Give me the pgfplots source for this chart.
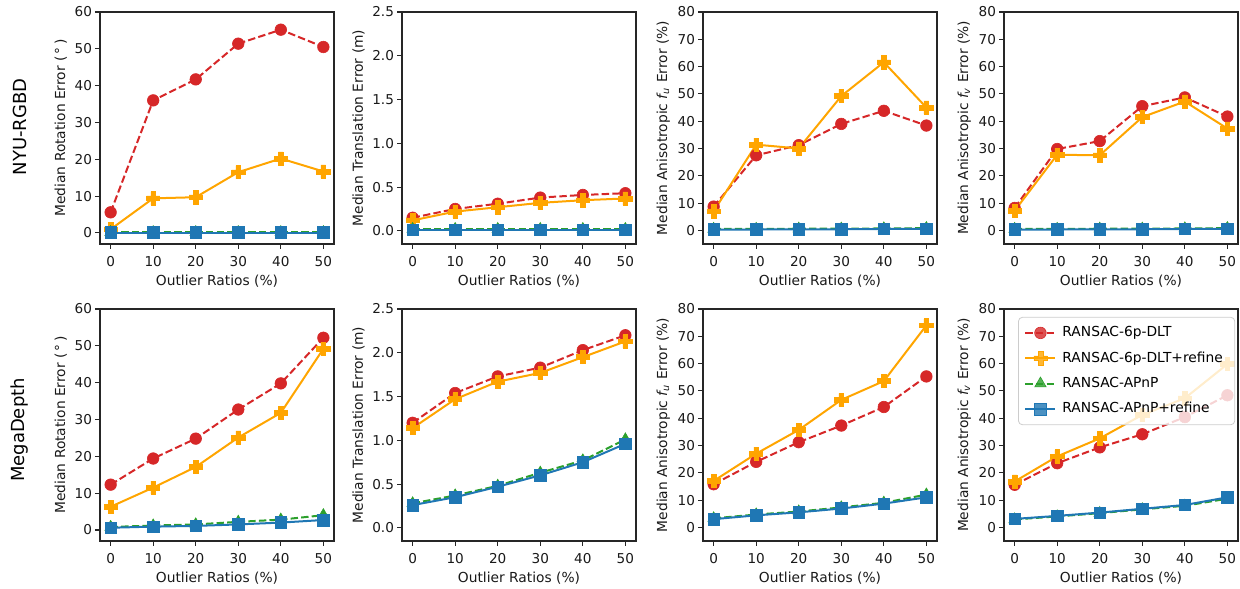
\documentclass[border=0pt]{standalone}
\usepackage{fontspec}
\setmainfont{DejaVu Sans}
\usepackage{pgfplots}
\usepackage{pgfplotstable}
\pgfplotsset{compat=1.18}

\definecolor{cred}{HTML}{D62728}
\definecolor{corange}{HTML}{FFA500}
\definecolor{cgreen}{HTML}{2CA02C}
\definecolor{cblue}{HTML}{1F77B4}

\pgfdeclareplotmark{fatplus}{%
  \pgfmathsetlengthmacro{\pw}{\pgfplotmarksize}%
  \pgfmathsetlengthmacro{\pa}{0.36*\pgfplotmarksize}%
  \pgfpathmoveto{\pgfqpoint{-\pa}{\pw}}%
  \pgfpathlineto{\pgfqpoint{\pa}{\pw}}%
  \pgfpathlineto{\pgfqpoint{\pa}{\pa}}%
  \pgfpathlineto{\pgfqpoint{\pw}{\pa}}%
  \pgfpathlineto{\pgfqpoint{\pw}{-\pa}}%
  \pgfpathlineto{\pgfqpoint{\pa}{-\pa}}%
  \pgfpathlineto{\pgfqpoint{\pa}{-\pw}}%
  \pgfpathlineto{\pgfqpoint{-\pa}{-\pw}}%
  \pgfpathlineto{\pgfqpoint{-\pa}{-\pa}}%
  \pgfpathlineto{\pgfqpoint{-\pw}{-\pa}}%
  \pgfpathlineto{\pgfqpoint{-\pw}{\pa}}%
  \pgfpathlineto{\pgfqpoint{-\pa}{\pa}}%
  \pgfpathclose
  \pgfusepathqfillstroke
}

% x: outlier ratio; r: RANSAC-6p-DLT; o: +refine; g: RANSAC-APnP; b: APnP+refine
\pgfplotstableread{
x  r     o     g     b
0  5.6   1.0   0.2   0.1
10 36.0  9.4   0.2   0.1
20 41.7  9.7   0.2   0.1
30 51.4  16.5  0.2   0.1
40 55.2  20.2  0.2   0.1
50 50.5  16.7  0.2   0.1
}\nyurot
\pgfplotstableread{
x  r     o     g     b
0  0.15  0.12  0.02  0.01
10 0.25  0.22  0.02  0.01
20 0.31  0.27  0.02  0.01
30 0.38  0.32  0.02  0.01
40 0.41  0.35  0.02  0.01
50 0.43  0.37  0.02  0.01
}\nyutra
\pgfplotstableread{
x  r     o     g     b
0  8.7   7.0   0.5   0.3
10 27.5  31.4  0.5   0.3
20 31.2  30.0  0.6   0.4
30 39.0  49.2  0.6   0.4
40 43.8  61.6  0.7   0.5
50 38.4  45.0  0.8   0.5
}\nyufu
\pgfplotstableread{
x  r     o     g     b
0  8.2   7.2   0.5   0.3
10 29.8  27.7  0.5   0.3
20 32.7  27.5  0.6   0.4
30 45.5  41.5  0.6   0.4
40 48.7  47.2  0.7   0.5
50 41.7  37.3  0.8   0.5
}\nyufv
\pgfplotstableread{
x  r     o     g     b
0  12.3  6.3   0.8   0.6
10 19.4  11.5  1.2   0.9
20 24.8  17.1  1.5   1.1
30 32.7  25.1  2.2   1.5
40 39.8  31.8  2.8   2.0
50 52.2  49.2  4.0   2.7
}\megarot
\pgfplotstableread{
x  r     o     g     b
0  1.20  1.14  0.28  0.26
10 1.54  1.47  0.37  0.35
20 1.73  1.67  0.48  0.47
30 1.83  1.77  0.63  0.60
40 2.03  1.95  0.77  0.75
50 2.20  2.13  1.01  0.96
}\megatra
\pgfplotstableread{
x  r     o     g     b
0  15.8  17.0  3.3   3.0
10 24.0  27.0  4.7   4.4
20 31.2  35.7  5.8   5.5
30 37.3  46.7  7.3   6.9
40 44.1  53.6  9.0   8.7
50 55.3  74.0  12.0  11.0
}\megafu
\pgfplotstableread{
x  r     o     g     b
0  15.6  16.8  2.9   3.1
10 23.5  26.0  4.0   4.2
20 29.3  32.6  5.2   5.4
30 34.1  41.2  6.6   6.8
40 40.4  47.3  7.9   8.2
50 48.4  59.8  10.5  11.0
}\megafv

\pgfplotsset{
  panel/.style={
    scale only axis, width=117pt, height=116pt,
    xmin=-2.5, xmax=52.5, xtick={0,10,...,50},
    tick align=outside, major tick length=2.5pt,
    xtick pos=left, ytick pos=left,
    axis line style={line width=0.55pt, black!85},
    every tick/.style={black!85, line width=0.55pt},
    tick label style={font=\fontsize{6.8}{8}\selectfont, text=black!90},
    yticklabel style={xshift=2pt},
    label style={font=\fontsize{6.9}{8}\selectfont, text=black!90},
    xlabel style={yshift=2.5pt},
    ylabel style={yshift=-3pt},
    xlabel={Outlier Ratios (\%)},
    /pgf/number format/assume math mode=true,
    clip=false,
  },
  angpanel/.style={panel, ymin=-3, ymax=60, ytick={0,10,...,60},
    ylabel={Median Rotation Error (\,°\,)}},
  trapanel/.style={panel, ymin=-0.15, ymax=2.5, ytick={0,0.5,...,2.5},
    yticklabel style={/pgf/number format/fixed, /pgf/number format/fixed zerofill, /pgf/number format/precision=1},
    ylabel={Median Translation Error (m)}},
  fupanel/.style={panel, ymin=-5, ymax=80, ytick={0,10,...,80},
    ylabel={Median Anisotropic {\itshape f}\textsubscript{\itshape u} Error (\%)}},
  fvpanel/.style={panel, ymin=-5, ymax=80, ytick={0,10,...,80},
    ylabel={Median Anisotropic {\itshape f}\textsubscript{\itshape v} Error (\%)}},
  sred/.style={color=cred, line width=1pt, dash pattern=on 3.7pt off 1.6pt,
    mark=*, mark size=2.9pt, mark options={solid, fill=cred, draw=cred, line width=0.3pt}},
  sorange/.style={color=corange, line width=1pt, solid,
    mark=fatplus, mark size=3.3pt, mark options={solid, fill=corange, draw=corange, line width=0.3pt}},
  sgreen/.style={color=cgreen, line width=1pt, dash pattern=on 3.7pt off 1.6pt,
    mark=triangle*, mark size=3.3pt, mark options={solid, fill=cgreen, draw=cgreen, line width=0.3pt}},
  sblue/.style={color=cblue, line width=1pt, solid,
    mark=square*, mark size=2.9pt, mark options={solid, fill=cblue, draw=cblue, line width=0.3pt}},
}

\newcommand{\fourseries}[1]{%
  \addplot[sred] table[x=x,y=r] {#1};
  \addplot[sorange] table[x=x,y=o] {#1};
  \addplot[sgreen] table[x=x,y=g] {#1};
  \addplot[sblue] table[x=x,y=b] {#1};
}

\begin{document}
\begin{tikzpicture}
\useasboundingbox (0,0) rectangle (620pt,294pt);

% top row
\begin{axis}[angpanel, at={(50pt,172pt)}, anchor=south west]
\fourseries{\nyurot}
\end{axis}
\begin{axis}[trapanel, at={(201pt,172pt)}, anchor=south west]
\fourseries{\nyutra}
\end{axis}
\begin{axis}[fupanel, at={(351.5pt,172pt)}, anchor=south west]
\fourseries{\nyufu}
\end{axis}
\begin{axis}[fvpanel, at={(502pt,172pt)}, anchor=south west]
\fourseries{\nyufv}
\end{axis}

% bottom row
\begin{axis}[angpanel, at={(50pt,23.5pt)}, anchor=south west]
\fourseries{\megarot}
\end{axis}
\begin{axis}[trapanel, at={(201pt,23.5pt)}, anchor=south west]
\fourseries{\megatra}
\end{axis}
\begin{axis}[fupanel, at={(351.5pt,23.5pt)}, anchor=south west]
\fourseries{\megafu}
\end{axis}
\begin{axis}[fvpanel, at={(502pt,23.5pt)}, anchor=south west,
  legend style={at={(rel axis cs:0.06,0.966)}, anchor=north west,
    draw=black!20, rounded corners=2pt, fill=white, fill opacity=0.8,
    draw opacity=1, text opacity=1, font=\fontsize{6.9}{8}\selectfont,
    row sep=2pt, inner xsep=3pt, inner ysep=2.5pt,
    nodes={inner xsep=3pt}},
  legend cell align=left,
  legend image code/.code={\draw[mark repeat=2, mark phase=2, #1] plot coordinates {(0pt,0pt) (7.5pt,0pt) (15pt,0pt)};}]
\fourseries{\megafv}
\addlegendentry{RANSAC-6p-DLT}
\addlegendentry{RANSAC-6p-DLT+refine}
\addlegendentry{RANSAC-APnP}
\addlegendentry{RANSAC-APnP+refine}
\end{axis}

\node[rotate=90, font=\fontsize{9}{10}\selectfont] at (10pt,230.5pt) {NYU-RGBD};
\node[rotate=90, font=\fontsize{9}{10}\selectfont] at (10pt,79pt) {MegaDepth};
\end{tikzpicture}
\end{document}
